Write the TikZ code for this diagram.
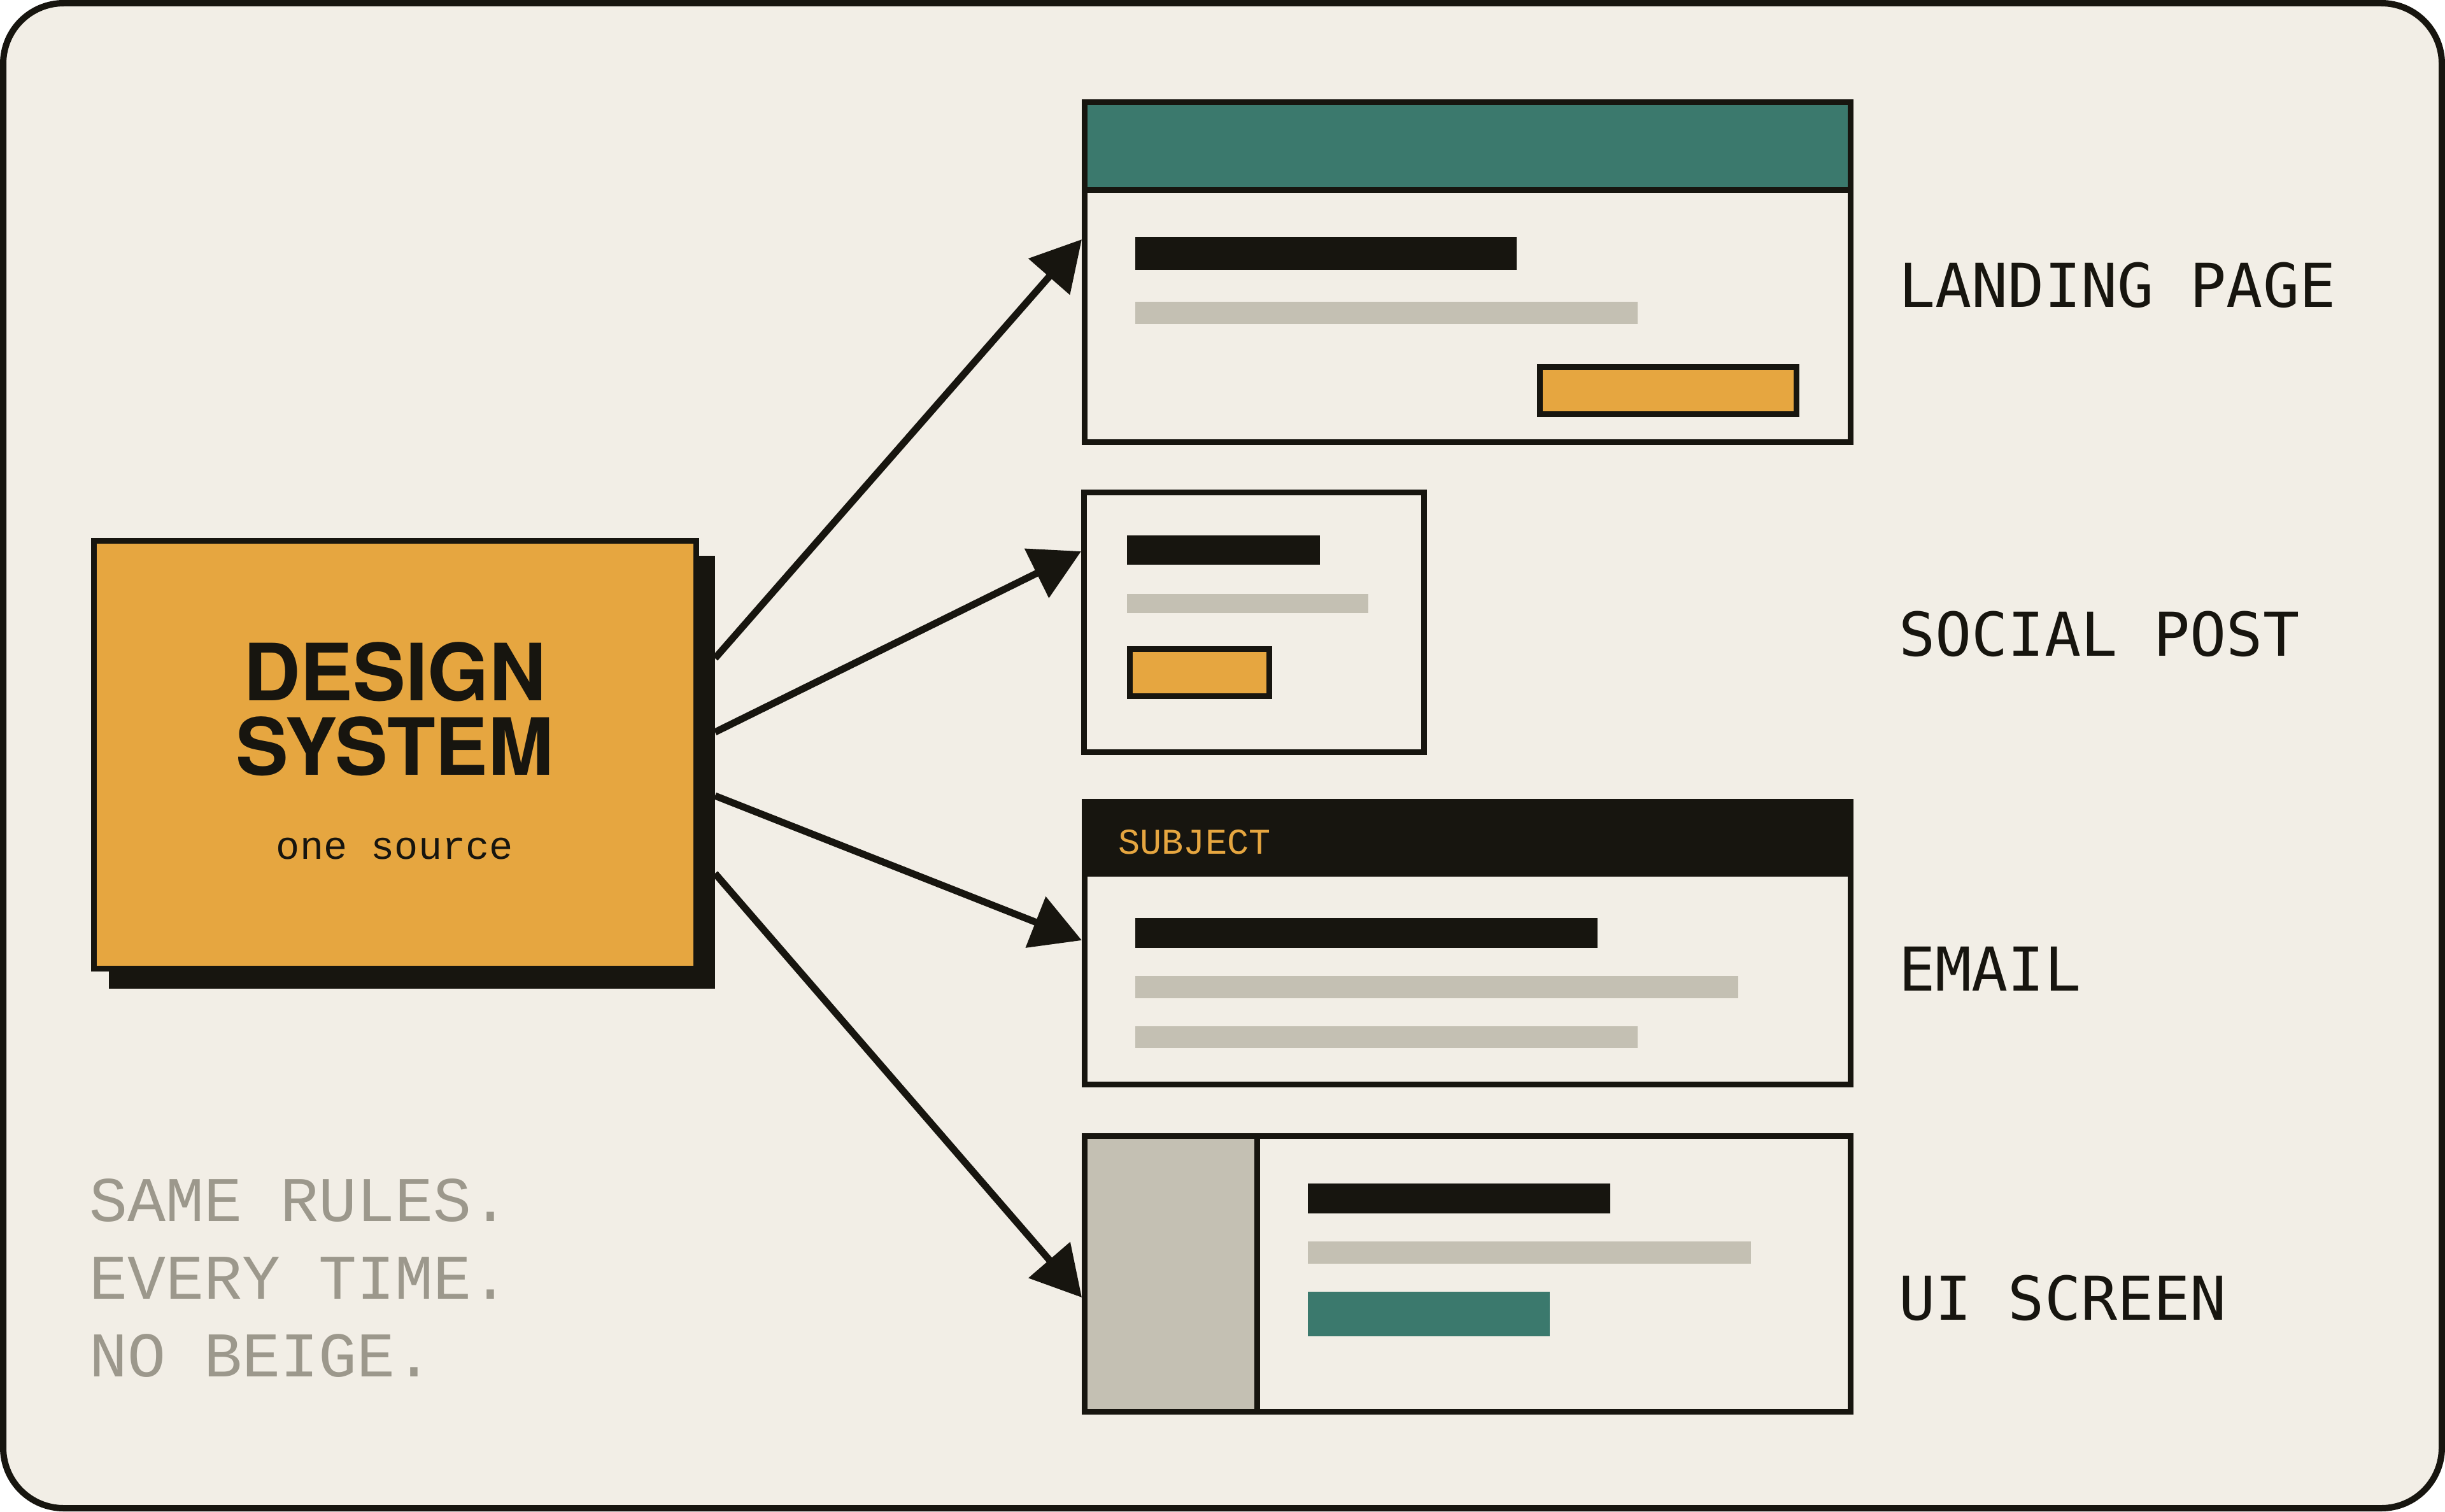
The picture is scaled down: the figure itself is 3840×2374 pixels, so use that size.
\documentclass[tikz,border=0pt]{standalone}
\usepackage{fontspec}
\usetikzlibrary{arrows.meta}
\newfontfamily\headfont{TeX Gyre Heros}
\newfontfamily\labelfont{DejaVu Sans Mono}
\newfontfamily\monofont{Liberation Mono}
\definecolor{ink}{RGB}{23,21,15}
\definecolor{cream}{RGB}{242,238,230}
\definecolor{amber}{RGB}{230,166,64}
\definecolor{tealc}{RGB}{59,121,109}
\definecolor{barc}{RGB}{196,192,179}
\definecolor{muted}{RGB}{156,152,140}
\tikzset{
  card/.style={draw=ink, line width=9pt, fill=cream, inner sep=0pt, anchor=north west},
  dsbox/.style={draw=ink, line width=9pt, fill=amber, inner sep=0pt, anchor=north west},
  conn/.style={draw=ink, line width=11pt, -{Triangle[length=78pt,width=84pt]}},
  outlabel/.style={anchor=base west, inner sep=0pt, text=ink, font=\labelfont\fontsize{95}{95}\selectfont},
  motto/.style={anchor=base west, inner sep=0pt, text=muted, font=\monofont\fontsize{100}{100}\selectfont},
  dstitle/.style={anchor=base, inner sep=0pt, text=ink, font=\headfont\bfseries\fontsize{124}{117}\selectfont},
  btn/.style={draw=ink, line width=9pt, fill=amber},
  rule/.style={draw=ink, line width=9pt},
}
\begin{document}
\begin{tikzpicture}[x=1pt,y=-1pt]
\useasboundingbox (0,0) rectangle (3840,2374);
\fill[white] (0,0) rectangle (3840,2374);
\draw[ink, line width=10pt, fill=cream, rounded corners=95pt] (5,5) rectangle (3835,2369);

% design system
\node[fill=ink, inner sep=0pt, outer sep=0pt, anchor=north west, minimum width=952pt, minimum height=680pt] (dsshadow) at (171,873) {};
\node[dsbox, minimum width=946pt, minimum height=672pt] (ds) at (143,845) {};
\node[dstitle] (dst1) at (620,1100) {DESIGN};
\node[dstitle] (dst2) at (620,1217) {SYSTEM};
\node[anchor=base, inner sep=0pt, text=ink, font=\monofont\fontsize{62}{62}\selectfont] (dssub) at (620,1349) {one source};

% landing page
\node[card, minimum width=1203pt, minimum height=534pt] (landing) at (1699,156) {};
\fill[tealc] (1703,160) rectangle (2906,298);
\draw[rule] (1703,298) -- (2906,298);
\fill[ink] (1783,372) rectangle (2382,424);
\fill[barc] (1783,474) rectangle (2572,509);
\draw[btn] (2418,576) rectangle (2821,650);
\draw[rule] (1703,160) rectangle (2906,694);

% social post
\node[card, minimum width=534pt, minimum height=408pt] (social) at (1698,769) {};
\fill[ink] (1770,841) rectangle (2073,887);
\fill[barc] (1770,933) rectangle (2149,963);
\draw[btn] (1774,1019) rectangle (1993,1093);

% email
\node[card, minimum width=1203pt, minimum height=444pt] (email) at (1699,1255) {};
\fill[ink] (1703,1259) rectangle (2906,1377);
\node[anchor=base west, inner sep=0pt, text=amber, font=\monofont\fontsize{57}{57}\selectfont] (subj) at (1756,1341) {SUBJECT};
\fill[ink] (1783,1442) rectangle (2509,1489);
\fill[barc] (1783,1533) rectangle (2730,1568);
\fill[barc] (1783,1612) rectangle (2572,1646);
\draw[rule] (1703,1259) rectangle (2906,1703);

% ui screen
\node[card, minimum width=1203pt, minimum height=433pt] (ui) at (1699,1780) {};
\fill[barc] (1703,1784) rectangle (1974,2217);
\draw[rule] (1974,1784) -- (1974,2217);
\fill[ink] (2054,1859) rectangle (2529,1906);
\fill[barc] (2054,1950) rectangle (2750,1985);
\fill[tealc] (2054,2029) rectangle (2434,2099);
\draw[rule] (1703,1784) rectangle (2906,2217);

% labels
\node[outlabel] (l1) at (2982,482) {LANDING PAGE};
\node[outlabel] (l2) at (2982,1030) {SOCIAL POST};
\node[outlabel] (l3) at (2982,1556) {EMAIL};
\node[outlabel] (l4) at (2982,2073) {UI SCREEN};

% motto
\node[motto] (m1) at (140,1918) {SAME RULES.};
\node[motto] (m2) at (140,2040) {EVERY TIME.};
\node[motto] (m3) at (140,2162) {NO BEIGE.};

% connectors
\coordinate (s1) at (dsshadow.east |- 0,1034);
\coordinate (s2) at (dsshadow.east |- 0,1150);
\coordinate (s3) at (dsshadow.east |- 0,1250);
\coordinate (s4) at (dsshadow.east |- 0,1372);
\draw[conn] (s1) -- (landing.west |- 0,376);
\draw[conn] (s2) -- (social.west |- 0,866);
\draw[conn] (s3) -- (email.west |- 0,1477);
\draw[conn] (s4) -- (ui.west |- 0,2038);
\end{tikzpicture}
\end{document}
